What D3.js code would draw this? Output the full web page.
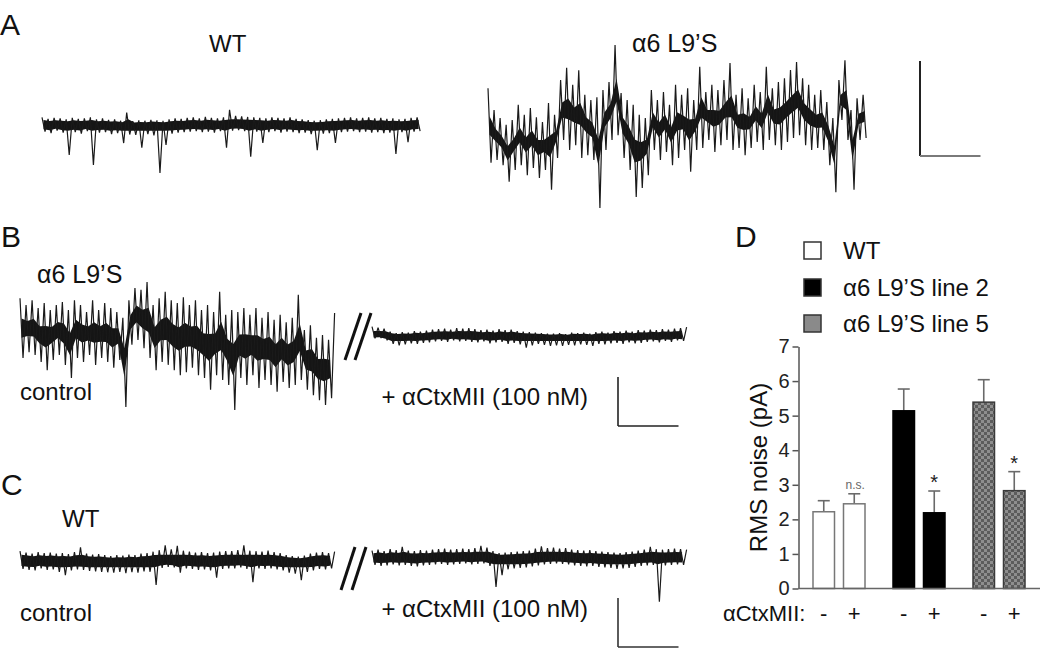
<!DOCTYPE html>
<html><head><meta charset="utf-8">
<script src="https://cdn.jsdelivr.net/npm/d3@7"></script>
<style>
body{margin:0;background:#fff}
svg{display:block}
text{font-family:"Liberation Sans",Arial,Helvetica,sans-serif;fill:#111}
</style>
</head><body>
<svg id="c" width="1050" height="650"></svg>
<script>
// ---------- DATA ----------
const DT = 0.05; // seconds per sample (alternating peak / trough readings)
// Panel A (pA, relative to baseline)
const traceA_WT = [1.6,-1.4,1.3,-1.7,1.5,-1.2,1.4,-1.6,1.2,-6.3,
 1.5,-1.5,1.3,-1.8,1.4,-1.3,1.6,-8.4,1.2,-1.6,
 1.4,-1.5,1.1,-1.9,1.2,-1.7,0.9,-3.8,2.6,-2.0,
 0.8,-2.1,1.0,-4.8,0.9,-1.9,1.1,-2.2,1.0,-10.1,
 0.9,-4.2,1.2,-1.8,1.4,-1.6,1.3,-1.5,1.5,-1.4,
 1.6,-1.3,1.4,-1.5,1.7,-1.4,1.5,-1.6,1.4,-1.3,
 1.6,-4.8,3.2,-1.2,1.9,-1.1,1.8,-1.3,1.7,-6.7,
 1.6,-1.4,1.5,-3.8,1.4,-1.5,1.6,-1.3,1.5,-1.6,
 1.4,-1.4,1.6,-1.5,1.3,-1.7,1.2,-1.6,1.0,-1.9,
 0.9,-5.3,1.0,-1.8,1.2,-1.7,1.3,-3.8,1.4,-1.5,
 1.5,-1.4,1.6,-1.3,1.4,-1.5,1.5,-1.4,1.6,-1.6,
 1.4,-1.5,1.5,-1.7,1.3,-1.6,1.4,-6.1,1.2,-1.5,
 1.3,-3.6,1.5,-1.4,1.6,-1.3];
const traceA_L9S = [8.8,-6.9,4.2,-6.3,2.5,-7.4,1.1,-10.9,2.1,-8.4,
 5.3,-7.4,3.2,-9.5,4.6,-8.0,2.7,-10.1,1.7,-8.4,
 5.7,-12.6,3.2,-5.9,10.5,-2.1,13.1,-4.2,9.5,-3.2,
 12.6,-5.9,7.4,-5.3,6.3,-6.3,6.9,-16.4,8.4,-4.2,
 10.1,-2.1,17.9,-1.1,7.8,-5.9,6.3,-8.4,5.3,-14.1,
 3.2,-12.2,2.5,-9.5,8.4,-4.2,6.3,-6.3,8.0,-4.6,
 5.3,-7.4,9.5,-5.9,7.4,-4.2,8.8,-8.8,6.3,-4.2,
 13.3,-3.8,8.0,-2.1,9.5,-4.6,8.4,-3.2,10.5,-2.1,
 14.1,-4.2,7.4,-3.8,8.8,-5.3,6.7,-3.8,9.5,-2.5,
 8.0,-4.2,13.3,-2.1,8.8,-3.2,10.1,-4.2,10.9,-2.5,
 12.6,-1.7,14.3,-1.1,10.9,-3.2,9.5,-4.2,7.4,-3.8,
 8.4,-4.2,5.9,-7.4,2.5,-13.1,10.5,2.1,14.7,-2.1,
 4.2,-12.6,6.7,-2.1,7.4,-1.7];
// Panel B
const traceB_ctrl = [7.1,-5.1,5.7,-3.9,6.7,-4.5,5.1,-5.9,6.1,-7.6,
 4.7,-5.5,5.7,-4.5,6.3,-6.5,4.7,-9.2,6.7,-5.1,
 5.7,-5.9,4.3,-4.5,6.7,-6.5,4.7,-5.1,6.1,-5.9,
 5.1,-7.1,4.3,-5.5,3.1,-15.1,6.7,-2.4,9.2,-1.4,
 8.8,-3.1,10.4,-5.1,5.7,-7.6,7.1,-5.9,8.4,-6.5,
 6.7,-7.6,6.1,-8.6,7.3,-8.0,5.7,-7.1,6.7,-8.6,
 4.7,-9.2,5.7,-11.6,4.3,-8.6,8.4,-9.6,3.7,-10.6,
 4.7,-15.7,4.3,-9.2,5.1,-10.6,3.7,-8.6,5.1,-11.2,
 3.1,-9.6,4.3,-10.6,2.7,-12.0,3.7,-10.0,2.2,-11.2,
 3.1,-10.6,7.8,-9.6,0.6,-11.6,1.6,-12.7,-1.0,-13.7,
 -0.4,-14.7,-1.4,-13.3,4.1];
const traceB_ctx = [1.9,-0.5,1.7,-0.4,1.5,-0.9,0.9,-1.6,0.6,-1.9,
 0.8,-1.7,0.7,-1.5,1.0,-1.6,0.9,-1.4,1.1,-1.3,
 1.3,-1.1,1.4,-1.0,1.5,-1.2,1.3,-0.9,1.6,-1.1,
 1.5,-1.0,1.6,-1.2,1.4,-1.3,1.2,-1.1,1.3,-1.5,
 1.1,-1.3,1.4,-1.2,1.2,-1.6,1.3,-1.4,1.0,-1.7,
 0.9,-2.4,0.8,-1.9,0.7,-1.6,0.6,-1.8,0.5,-2.0,
 0.5,-1.9,0.6,-2.0,0.4,-1.8,0.7,-1.9,0.6,-1.7,
 0.7,-1.8,0.5,-2.0,0.8,-1.6,0.9,-1.7,0.7,-1.5,
 1.0,-1.4,0.9,-1.6,1.1,-1.3,0.9,-1.5,1.2,-1.4,
 1.1,-1.2,1.3,-1.1,1.2,-1.3,1.4,-1.0,1.3,-1.2,
 1.5,-0.9,1.6,-1.0,1.8];
// Panel C
const traceC_ctrl = [2.0,-1.6,1.7,-1.8,1.5,-1.9,1.8,-1.5,1.6,-1.8,
 1.7,-1.7,1.5,-2.2,1.6,-2.9,1.4,-1.9,1.8,-1.7,
 2.8,-1.8,1.5,-2.0,1.3,-2.1,1.4,-2.2,1.2,-2.3,
 1.0,-2.4,1.2,-2.2,1.1,-2.5,1.3,-2.3,1.2,-2.4,
 1.5,-2.1,1.6,-2.2,1.9,-4.9,2.2,-1.4,3.2,-1.2,
 2.4,-1.3,3.1,-2.4,2.1,-1.5,1.9,-1.6,1.7,-1.8,
 1.8,-1.7,1.6,-1.9,1.7,-3.4,1.9,-1.6,2.0,-1.5,
 2.0,-1.5,2.2,-1.3,3.2,-1.6,2.1,-4.3,2.0,-1.5,
 1.9,-1.6,2.1,-1.5,1.8,-1.7,1.6,-1.9,1.2,-2.4,
 1.0,-2.6,0.9,-3.9,1.1,-2.2,1.5,-1.9,1.7,-1.6,
 1.8,-1.7,1.6,-1.5,1.9];
const traceC_ctx = [1.5,-1.4,1.7,-1.6,1.4,-1.5,1.8,-1.3,1.6,-1.5,
 2.3,-1.4,1.5,-1.6,1.4,-1.7,1.6,-1.5,1.5,-1.4,
 1.7,-1.3,1.8,-1.2,1.9,-1.4,1.7,-1.3,1.8,-1.2,
 1.9,-1.1,1.8,-1.3,2.0,-1.2,2.5,-1.1,2.1,-1.6,
 1.4,-5.9,1.0,-3.5,1.1,-2.3,1.2,-2.1,1.3,-2.0,
 1.4,-1.9,1.5,-1.7,1.9,-1.5,2.4,-1.3,2.0,-1.2,
 2.1,-1.1,1.9,-1.2,2.0,-1.3,1.7,-1.5,1.6,-1.6,
 1.5,-1.7,1.6,-1.6,1.4,-1.8,1.3,-1.9,1.2,-2.0,
 1.1,-2.2,1.0,-2.1,1.2,-2.0,1.3,-1.8,1.5,-1.6,
 1.7,-1.5,2.3,-1.4,1.8,-8.9,1.7,-1.5,1.8,-1.4,
 1.9,-1.3,1.8,-1.4,1.7];
// Scale bars
const scaleBarA = {pA: 20, s: 1};
const scaleBarBC = {pA: 10, s: 1};
// Panel D
const groups = ["WT", "\u03B16 L9\u2019S line 2", "\u03B16 L9\u2019S line 5"];
const treatments = ["-", "+"];
const rmsMean = [[2.22, 2.45], [5.14, 2.19], [5.39, 2.83]];
const rmsSEM = [[0.32, 0.29], [0.63, 0.63], [0.65, 0.55]];
const sigLabels = [["", "n.s."], ["", "*"], ["", "*"]];
const yTicks = [0, 1, 2, 3, 4, 5, 6, 7];

// ---------- DRAW ----------
const svg = d3.select("#c");
const FONT = 24;
const tS = d3.scaleLinear().domain([0, 1]).range([0, 60.5]); // px per second
const yA = d3.scaleLinear().domain([0, 20]).range([0, 95]);  // px per pA, panel A
const yBC = d3.scaleLinear().domain([0, 10]).range([0, 49]); // px per pA, panels B, C

// trace = dense core band (from each peak/trough pair) + the raw trace line
function drawTrace(data, x0, y0, ys, mode, coreF, coreCap) {
  const dur = (data.length - 1) * DT;
  const x = d3.scaleLinear().domain([0, dur]).range([x0, x0 + tS(dur)]);
  const pairs = d3.range(0, data.length - 1, 2).map(k => {
    const hi = Math.max(data[k], data[k + 1]), lo = Math.min(data[k], data[k + 1]);
    if (mode === "flat") {
      return {t: (k + 0.5) * DT, top: Math.min(coreF * hi, coreCap), bot: Math.max(coreF * lo, -coreCap)};
    }
    const c = (hi + lo) / 2, h = Math.min(coreF * (hi - lo) / 2, coreCap);
    return {t: (k + 0.5) * DT, top: c + h, bot: c - h};
  });
  const area = d3.area().x(d => x(d.t)).y0(d => y0 - ys(d.bot)).y1(d => y0 - ys(d.top));
  svg.append("path").datum(pairs).attr("d", area).attr("fill", "#151515");
  const line = d3.line().x((d, i) => x(i * DT)).y(d => y0 - ys(d));
  svg.append("path").datum(data).attr("d", line)
    .attr("fill", "none").attr("stroke", "#1a1a1a").attr("stroke-width", 1.2)
    .attr("stroke-linejoin", "miter").attr("stroke-miterlimit", 2);
}
function label(txt, x, y, size, opts = {}) {
  const t = svg.append("text").attr("x", x).attr("y", y).attr("font-size", size).text(txt);
  if (opts.anchor) t.attr("text-anchor", opts.anchor);
  if (opts.fill) t.style("fill", opts.fill);
  return t;
}
function slashes(x, yTop, yBot, dx, gap) {
  [0, gap].forEach(o => {
    svg.append("line").attr("x1", x + o).attr("y1", yBot).attr("x2", x + o + dx).attr("y2", yTop)
      .attr("stroke", "#111").attr("stroke-width", 3);
  });
}
function scaleBar(x, yBottom, ys, sb, vColor, hColor, w) {
  svg.append("line").attr("x1", x).attr("x2", x).attr("y1", yBottom).attr("y2", yBottom - ys(sb.pA))
    .attr("stroke", vColor).attr("stroke-width", w);
  svg.append("line").attr("x1", x).attr("x2", x + tS(sb.s)).attr("y1", yBottom).attr("y2", yBottom)
    .attr("stroke", hColor).attr("stroke-width", w);
}

// Panel letters
label("A", 0, 35, 30);
label("B", 1, 247, 30);
label("C", 1, 495, 30);
label("D", 735, 247, 30);

// Panel A
label("WT", 209, 52, FONT);
label("\u03B16 L9\u2019S", 632, 52, 25);
drawTrace(traceA_WT, 42, 125, yA, "flat", 0.65, 1.2);
drawTrace(traceA_L9S, 488, 130, yA, "noisy", 0.25, 2.8);
scaleBar(920, 156, yA, scaleBarA, "#222", "#7a7a7a", 2);

// Panel B
label("\u03B16 L9\u2019S", 37, 283, 25);
drawTrace(traceB_ctrl, 20, 333, yBC, "noisy", 0.32, 3.5);
slashes(345, 313, 360, 16, 10);
drawTrace(traceB_ctx, 372, 336, yBC, "flat", 0.65, 1.0);
label("control", 20, 400, FONT);
label("+ \u03B1CtxMII (100 nM)", 588, 405, FONT, {anchor: "end"});
scaleBar(618, 426, yBC, scaleBarBC, "#222", "#222", 1.6);

// Panel C
label("WT", 62, 527, FONT);
drawTrace(traceC_ctrl, 20, 561, yBC, "flat", 0.65, 1.3);
slashes(341, 547, 590, 14, 11);
drawTrace(traceC_ctx, 372, 558, yBC, "flat", 0.65, 1.3);
label("control", 20, 621, FONT);
label("+ \u03B1CtxMII (100 nM)", 588, 617, FONT, {anchor: "end"});
scaleBar(618, 647, yBC, scaleBarBC, "#333", "#333", 1.6);

// Panel D: bar chart
const defs = svg.append("defs");
const pat = defs.append("pattern").attr("id", "checker").attr("patternUnits", "userSpaceOnUse")
  .attr("width", 6).attr("height", 6);
pat.append("rect").attr("width", 6).attr("height", 6).attr("fill", "#8e8e8e");
pat.append("rect").attr("width", 3).attr("height", 3).attr("fill", "#5c5c5c");
pat.append("rect").attr("x", 3).attr("y", 3).attr("width", 3).attr("height", 3).attr("fill", "#5c5c5c");

const fills = ["#ffffff", "#000000", "url(#checker)"];
const strokes = ["#777777", "#000000", "#3a3a3a"];
const legendFills = ["#ffffff", "#000000", "#8a8a8a"];

const axisX0 = 798.5, axisX1 = 1040;
const y = d3.scaleLinear().domain([0, 7]).range([588.5, 346.5]);
const gx = d3.scaleBand().domain(groups).range([799, 1039]);
const tx = d3.scaleBand().domain(treatments).range([0, gx.bandwidth()]).paddingInner(0.295).paddingOuter(0.459);

const g = svg.append("g");
groups.forEach((grp, gi) => {
  treatments.forEach((tr, ti) => {
    const bx = gx(grp) + tx(tr), bw = tx.bandwidth();
    const m = rmsMean[gi][ti], s = rmsSEM[gi][ti];
    const cx = bx + bw / 2;
    g.append("line").attr("x1", cx).attr("x2", cx).attr("y1", y(m)).attr("y2", y(m + s))
      .attr("stroke", "#6a6a6a").attr("stroke-width", 1.6);
    g.append("line").attr("x1", cx - 6).attr("x2", cx + 6).attr("y1", y(m + s)).attr("y2", y(m + s))
      .attr("stroke", "#6a6a6a").attr("stroke-width", 1.6);
    g.append("rect").attr("x", bx).attr("y", y(m)).attr("width", bw).attr("height", y(0) - y(m))
      .attr("fill", fills[gi]).attr("stroke", strokes[gi]).attr("stroke-width", 1.5);
    const sl = sigLabels[gi][ti];
    if (sl === "n.s.") label(sl, cx + 1, y(m + s) - 5, 12, {anchor: "middle", fill: "#666"});
    else if (sl) label(sl, cx, y(m + s) - 2, 20, {anchor: "middle", fill: "#222"});
    label(tr, cx, 621, 22, {anchor: "middle"});
  });
});
label("\u03B1CtxMII:", 723, 621, 22);

// axes
const yAxis = d3.axisLeft(y).tickValues(yTicks).tickFormat(d3.format("d"))
  .tickSize(6).tickSizeOuter(0).tickPadding(3);
const ga = svg.append("g").attr("transform", `translate(${axisX0},0)`).call(yAxis);
ga.select(".domain").attr("stroke", "#555").attr("stroke-width", 1.5);
ga.selectAll(".tick line").attr("stroke", "#555").attr("stroke-width", 1.5);
ga.selectAll(".tick text").attr("font-size", 20).attr("font-family", "Liberation Sans, Arial, sans-serif").style("fill", "#222");
svg.append("line").attr("x1", axisX0).attr("x2", axisX1).attr("y1", y(0)).attr("y2", y(0))
  .attr("stroke", "#666").attr("stroke-width", 1.6);
label("RMS noise (pA)", 0, 0, 24, {anchor: "middle"})
  .attr("transform", `translate(767,${(y(0) + y(7)) / 2}) rotate(-90)`);

// legend
const legY = [242, 279, 315];
groups.forEach((grp, gi) => {
  svg.append("rect").attr("x", 804).attr("y", legY[gi]).attr("width", 17).attr("height", 17)
    .attr("fill", legendFills[gi]).attr("stroke", "#333").attr("stroke-width", 1.5);
  label(grp, 843, legY[gi] + 17, 24);
});
</script>
</body></html>
